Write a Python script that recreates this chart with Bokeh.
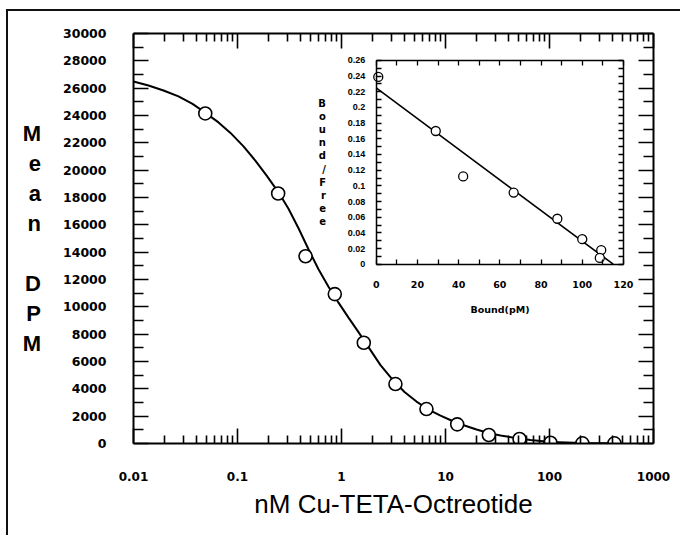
from bokeh.plotting import figure
from bokeh.models import (Range1d, LinearScale, LinearAxis, LogAxis, FixedTicker)
from bokeh.embed import file_html
from bokeh.resources import INLINE

# ---------------- data ----------------
conc_nM = [0.049, 0.246, 0.451, 0.862, 1.638, 3.30, 6.56, 12.96, 26.1, 51.5, 102, 207, 421]
mean_dpm = [24150, 18290, 13700, 10930, 7370, 4350, 2520, 1400, 620, 330, 60, 15, 15]

# fitted curve
fit_conc = [0.01, 0.01394, 0.01943, 0.02708, 0.03694, 0.04925, 0.06567, 0.08563, 0.1142,
            0.1490, 0.1900, 0.2478, 0.3093, 0.3860, 0.4816, 0.6008, 0.7499, 0.9358,
            1.1675, 1.4572, 1.8178, 2.3714, 3.0935, 4.0352, 5.2624, 6.8645, 8.953,
            11.678, 15.231, 19.87, 25.91, 33.8, 47.1, 65.7, 102.2, 207.7, 421.7]
fit_dpm = [26490, 26199, 25833, 25395, 24847, 24189, 23495, 22728, 21741,
           20682, 19622, 18380, 17174, 15749, 14214, 12752, 11474, 10304,
           9208, 8148, 7052, 5737, 4677, 3764, 3069, 2485, 2046,
           1644, 1315, 1023, 767, 585, 402, 256, 110, 37, 15]

bound_pM = [1, 28.9, 42.2, 66.7, 87.9, 100, 109.2, 108.5]
bound_free = [0.239, 0.170, 0.112, 0.0914, 0.058, 0.032, 0.018, 0.008]
line_bound = [0, 115]
line_bf = [0.225, 0.0]

x_ticks = [0.01, 0.1, 1, 10, 100, 1000]
x_tick_labels = ["0.01", "0.1", "1", "10", "100", "1000"]
y_ticks = [0, 2000, 4000, 6000, 8000, 10000, 12000, 14000, 16000, 18000, 20000,
           22000, 24000, 26000, 28000, 30000]
y_tick_labels = ["0", "2000", "4000", "6000", "8000", "10000", "12000", "14000", "16000",
                 "18000", "20000", "22000", "24000", "26000", "28000", "30000"]
y_minor = [1000, 3000, 5000, 7000, 9000, 11000, 13000, 15000, 17000, 19000, 21000,
           23000, 25000, 27000, 29000]

in_x_ticks = [0, 20, 40, 60, 80, 100, 120]
in_x_labels = ["0", "20", "40", "60", "80", "100", "120"]
in_x_minor = [10, 30, 50, 70, 90, 110]
in_y_ticks = [0, 0.02, 0.04, 0.06, 0.08, 0.1, 0.12, 0.14, 0.16, 0.18, 0.2, 0.22, 0.24, 0.26]
in_y_labels = ["0", "0.02", "0.04", "0.06", "0.08", "0.1", "0.12", "0.14", "0.16", "0.18",
               "0.2", "0.22", "0.24", "0.26"]
in_y_minor = [0.01, 0.03, 0.05, 0.07, 0.09, 0.11, 0.13, 0.15, 0.17, 0.19, 0.21, 0.23, 0.25]

x_title = "nM Cu-TETA-Octreotide"
y_title = "M\ne\na\nn\n\nD\nP\nM"
in_x_title = "Bound(pM)"
in_y_title = "B\no\nu\nn\nd\n/\nF\nr\ne\ne"

# ---------------- figure ----------------
W, H = 680, 535
FL, FR, FT, FB = 133, 653, 33, 443
p = figure(width=W, height=H, x_axis_type="log",
           x_range=Range1d(0.01, 1000), y_range=Range1d(0, 30000),
           output_backend="svg", toolbar_location=None,
           min_border_left=FL, min_border_right=W - FR,
           min_border_top=FT, min_border_bottom=H - FB)
p.grid.visible = False
p.outline_line_color = None
p.background_fill_color = None
p.border_fill_color = None
# outer frame of the picture (top and left edges, drawn behind the transparent canvas)
p.styles = {
    "background-color": "white",
    "background-image": "linear-gradient(#111, #111), linear-gradient(#111, #111)",
    "background-size": "700px 2px, 2px 600px",
    "background-position": "6px 9px, 6px 9px",
    "background-repeat": "no-repeat",
}

BOLD = "DejaVu Sans"
log_minor = [m * d for d in [0.01, 0.1, 1, 10, 100] for m in range(2, 10)]


def style_axis(ax, major_in, minor_in, lw=2.0, tw=1.6):
    ax.axis_line_width = lw
    ax.axis_line_color = "black"
    ax.major_tick_in = major_in
    ax.major_tick_out = 0
    ax.minor_tick_in = minor_in
    ax.minor_tick_out = 0
    ax.major_tick_line_width = tw
    ax.minor_tick_line_width = tw
    ax.major_tick_line_color = "black"
    ax.minor_tick_line_color = "black"


def hide_labels(ax, ticks):
    ax.major_label_overrides = {t: "" for t in ticks}
    ax.major_label_text_font_size = "1px"
    ax.major_label_text_alpha = 0
    ax.major_label_standoff = 0


# bottom log axis
xa = p.xaxis[0]
xa.ticker = FixedTicker(ticks=x_ticks, minor_ticks=log_minor)
xa.major_label_overrides = dict(zip(x_ticks, x_tick_labels))
style_axis(xa, 15, 8)
xa.major_label_text_font = BOLD
xa.major_label_text_font_style = "bold"
xa.major_label_text_font_size = "12px"
xa.major_label_text_color = "black"
xa.major_label_standoff = 28
xa.axis_label = x_title
xa.axis_label_text_font = "Liberation Sans"
xa.axis_label_text_font_style = "normal"
xa.axis_label_text_font_size = "26px"
xa.axis_label_text_color = "black"
xa.axis_label_standoff = 5

# top log axis
ta = LogAxis(ticker=FixedTicker(ticks=x_ticks, minor_ticks=log_minor))
style_axis(ta, 15, 8)
hide_labels(ta, x_ticks)
p.add_layout(ta, "above")

# left axis
ya = p.yaxis[0]
ya.ticker = FixedTicker(ticks=y_ticks, minor_ticks=y_minor)
ya.major_label_overrides = dict(zip(y_ticks, y_tick_labels))
style_axis(ya, 15, 10)
ya.major_label_text_font = BOLD
ya.major_label_text_font_style = "bold"
ya.major_label_text_font_size = "12.5px"
ya.major_label_text_color = "black"
ya.major_label_standoff = 27
ya.axis_label = y_title
ya.axis_label_orientation = "horizontal"
ya.axis_label_text_font = "Liberation Sans"
ya.axis_label_text_font_style = "bold"
ya.axis_label_text_font_size = "22px"
ya.axis_label_text_align = "center"
ya.axis_label_text_line_height = 1.2
ya.axis_label_text_color = "black"
ya.axis_label_standoff = 19

# right axis
ra = LinearAxis(ticker=FixedTicker(ticks=y_ticks, minor_ticks=y_minor))
style_axis(ra, 15, 10)
hide_labels(ra, y_ticks)
p.add_layout(ra, "right")

# main data
p.line(fit_conc, fit_dpm, line_color="black", line_width=2)
p.scatter(conc_nM, mean_dpm, size=13, marker="circle", fill_color="white",
          line_color="black", line_width=1.6)

# ---------------- inset (extra linear ranges) ----------------
p.extra_x_ranges = {"ix": Range1d(-117.77, 134.56)}
p.extra_x_scales = {"ix": LinearScale()}
p.extra_y_ranges = {"iy": Range1d(-0.2288, 0.2944)}

ib = LinearAxis(x_range_name="ix", y_range_name="iy", fixed_location=0, bounds=(0, 120),
                ticker=FixedTicker(ticks=in_x_ticks, minor_ticks=in_x_minor))
ib.major_label_overrides = dict(zip(in_x_ticks, in_x_labels))
style_axis(ib, 5, 5, lw=1.5, tw=1.3)
ib.major_label_text_font = BOLD
ib.major_label_text_font_style = "bold"
ib.major_label_text_font_size = "9.5px"
ib.major_label_text_color = "black"
ib.major_label_standoff = 17
ib.axis_label = in_x_title
ib.axis_label_text_font = BOLD
ib.axis_label_text_font_style = "bold"
ib.axis_label_text_font_size = "9.5px"
ib.axis_label_text_color = "black"
ib.axis_label_standoff = 12
p.add_layout(ib, "below")

it = LinearAxis(x_range_name="ix", y_range_name="iy", fixed_location=0.26, bounds=(0, 120),
                ticker=FixedTicker(ticks=in_x_ticks, minor_ticks=in_x_minor))
style_axis(it, 5, 5, lw=1.5, tw=1.3)
hide_labels(it, in_x_ticks)
p.add_layout(it, "above")

il = LinearAxis(x_range_name="ix", y_range_name="iy", fixed_location=0, bounds=(0, 0.26),
                ticker=FixedTicker(ticks=in_y_ticks, minor_ticks=in_y_minor))
il.major_label_overrides = dict(zip(in_y_ticks, in_y_labels))
style_axis(il, 5, 5, lw=1.5, tw=1.3)
il.major_label_text_font = "Liberation Sans"
il.major_label_text_font_style = "bold"
il.major_label_text_font_size = "9px"
il.major_label_text_color = "black"
il.major_label_standoff = 11
il.axis_label = in_y_title
il.axis_label_orientation = "horizontal"
il.axis_label_text_font = BOLD
il.axis_label_text_font_style = "bold"
il.axis_label_text_font_size = "10px"
il.axis_label_text_align = "center"
il.axis_label_text_line_height = 1.19
il.axis_label_text_color = "black"
il.axis_label_standoff = 19
p.add_layout(il, "left")

ir = LinearAxis(x_range_name="ix", y_range_name="iy", fixed_location=120, bounds=(0, 0.26),
                ticker=FixedTicker(ticks=in_y_ticks, minor_ticks=in_y_minor))
style_axis(ir, 5, 5, lw=1.5, tw=1.3)
hide_labels(ir, in_y_ticks)
p.add_layout(ir, "right")

p.line(line_bound, line_bf, x_range_name="ix", y_range_name="iy",
       line_color="black", line_width=1.6)
p.scatter(bound_pM, bound_free, x_range_name="ix", y_range_name="iy", size=9,
          marker="circle", fill_color="white", line_color="black", line_width=1.3)

open("out.html", "w").write(file_html(p, INLINE))
